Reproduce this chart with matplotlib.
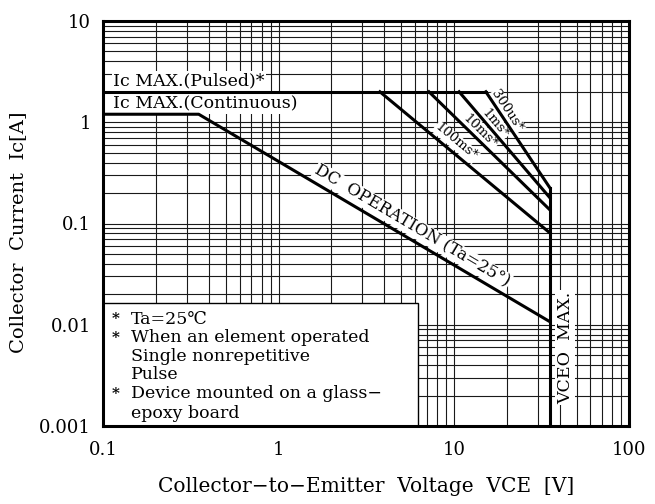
import numpy as np
import matplotlib.pyplot as plt
from matplotlib.ticker import LogLocator, NullFormatter, FixedLocator, FixedFormatter
from matplotlib.patches import Rectangle

plt.rcParams['font.family'] = ['DejaVu Serif', 'DejaVu Sans']

# values (V, A)
ic_pulsed = 2.0
vceo_max = 35.3

dc_v = [0.1, 0.35, 35.3]
dc_i = [1.2, 1.2, 0.0107]

pulse_names = ['300us*', '1ms*', '10ms*', '100ms*']
pulse_v_start = [15.2, 10.7, 7.2, 3.78]
pulse_i_end = [0.224, 0.179, 0.136, 0.0805]

x_ticks = [0.1, 1, 10, 100]
x_ticklabels = ['0.1', '1', '10', '100']
y_ticks = [0.001, 0.01, 0.1, 1, 10]
y_ticklabels = ['0.001', '0.01', '0.1', '1', '10']

notes = [('*', 'Ta=25\u2103'),
         ('*', 'When an element operated'),
         ('', 'Single nonrepetitive'),
         ('', 'Pulse'),
         ('*', 'Device mounted on a glass\u2212'),
         ('', 'epoxy board')]

fig = plt.figure(figsize=(6.55, 5.04), dpi=100)
ax = fig.add_axes([103.3/655, 1-426/504, 526/655, 405/504])
ax.set_xscale('log')
ax.set_yscale('log')
ax.set_xlim(0.1, 100)
ax.set_ylim(0.001, 10)

# log paper grid
ax.xaxis.set_major_locator(FixedLocator(x_ticks))
ax.xaxis.set_major_formatter(FixedFormatter(x_ticklabels))
ax.yaxis.set_major_locator(FixedLocator(y_ticks))
ax.yaxis.set_major_formatter(FixedFormatter(y_ticklabels))
ax.xaxis.set_minor_locator(LogLocator(base=10, subs=range(2, 10), numticks=50))
ax.yaxis.set_minor_locator(LogLocator(base=10, subs=range(2, 10), numticks=50))
ax.xaxis.set_minor_formatter(NullFormatter())
ax.yaxis.set_minor_formatter(NullFormatter())
ax.set_axisbelow(True)
ax.grid(which='both', color='#1a1a1a', lw=0.8)
ax.tick_params(which='both', length=0)
ax.tick_params(axis='x', pad=11, labelsize=13)
ax.tick_params(axis='y', pad=9, labelsize=13)
for s in ax.spines.values():
    s.set_linewidth(2.2)

lw = 2.2
# pulsed limit + DC line
ax.plot([dc_v[0], max(pulse_v_start)], [ic_pulsed, ic_pulsed], color='k', lw=lw, zorder=3)
ax.plot(dc_v, dc_i, color='k', lw=lw, zorder=3)
for v0, i1 in zip(pulse_v_start, pulse_i_end):
    ax.plot([v0, vceo_max], [ic_pulsed, i1], color='k', lw=lw, zorder=3)
ax.plot([vceo_max, vceo_max], [max(pulse_i_end), 0.001], color='k', lw=lw, zorder=3)

fig.canvas.draw()


def place_on_line(p0, p1, t, off, text, size, **kw):
    a = ax.transData.transform(p0)
    b = ax.transData.transform(p1)
    d = b - a
    ang = np.degrees(np.arctan2(d[1], d[0]))
    n = np.array([-d[1], d[0]]) / np.hypot(*d)
    pos = a + t * d + off * n
    xy = ax.transData.inverted().transform(pos)
    ax.text(xy[0], xy[1], text, rotation=ang, rotation_mode='anchor',
            ha='center', va='center', fontsize=size, zorder=2.8,
            bbox=dict(facecolor='white', edgecolor='none', pad=0.6), **kw)


pulse_t = [0.24, 0.34, 0.38, 0.41]
pulse_off = [7, 7, 8, 10]
for name, v0, i1, t, o in zip(pulse_names, pulse_v_start, pulse_i_end, pulse_t, pulse_off):
    place_on_line((v0, ic_pulsed), (vceo_max, i1), t, o, name, 9.5)

place_on_line((dc_v[1], dc_i[1]), (dc_v[2], dc_i[2]), 0.59, 12,
              'DC  OPERATION (Ta=25\u00b0)', 12)

# current limit labels
ax.annotate('Ic MAX.(Pulsed)*', xy=(0, ic_pulsed), xycoords=('axes fraction', 'data'),
            xytext=(7, 7.5), textcoords='offset points', fontsize=12.5,
            ha='left', va='center', zorder=2.8,
            bbox=dict(facecolor='white', edgecolor='none', pad=1))
ax.annotate('Ic MAX.(Continuous)', xy=(0, dc_i[0]), xycoords=('axes fraction', 'data'),
            xytext=(7, 7.5), textcoords='offset points', fontsize=12.5,
            ha='left', va='center', zorder=2.8,
            bbox=dict(facecolor='white', edgecolor='none', pad=1))

ax.annotate('VCEO  MAX.', xy=(vceo_max, 0.193), xycoords=('data', 'axes fraction'),
            xytext=(11, 0), textcoords='offset points', fontsize=12.5,
            rotation=90, ha='center', va='center', zorder=2.8,
            bbox=dict(facecolor='white', edgecolor='none', pad=1))

# notes box
ax.add_patch(Rectangle((0, 0), 0.598, 0.304, transform=ax.transAxes,
                       facecolor='white', edgecolor='k', lw=1.0, zorder=2.5))
note_y = [319.3, 337.8, 356.3, 374.8, 394.0, 413.0]
for (star, line), yp in zip(notes, note_y):
    yf = (426 - yp) / 405
    if star:
        ax.text(0.016, yf, star, transform=ax.transAxes, fontsize=11,
                fontweight='bold', ha='left', va='center', zorder=4)
    ax.text(0.053, yf, line, transform=ax.transAxes, fontsize=12.5,
            ha='left', va='center', zorder=4)

fig.text(18/655, 1-232/504, 'Collector  Current  Ic[A]', rotation=90,
         ha='center', va='center', fontsize=14)
fig.text(366/655, 1-487/504, 'Collector\u2212to\u2212Emitter  Voltage  VCE  [V]',
         ha='center', va='center', fontsize=14.5)

fig.savefig('out.png', dpi=100)
